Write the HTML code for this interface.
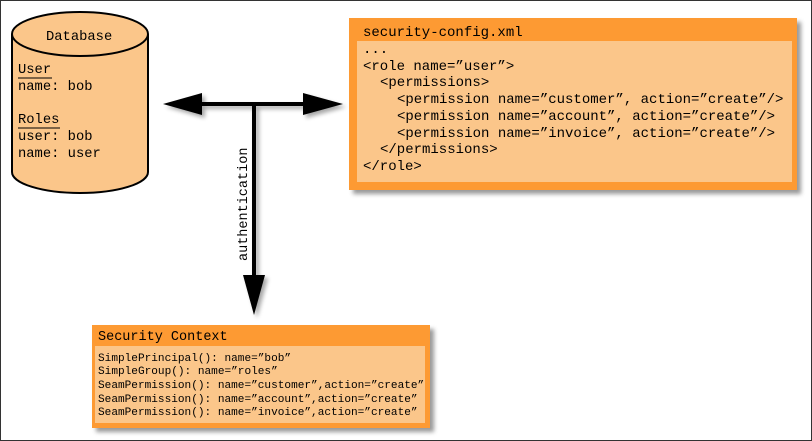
<!DOCTYPE html>
<html><head><meta charset="utf-8"><style>
html,body{margin:0;padding:0;background:#fff}
svg{display:block}
text{font-family:"Liberation Mono",monospace;fill:#000}
</style></head><body>
<svg width="812" height="441" viewBox="0 0 812 441" xmlns="http://www.w3.org/2000/svg">
<defs><filter id="sh" x="-5%" y="-5%" width="115%" height="120%"><feGaussianBlur stdDeviation="2"/></filter></defs>
<rect x="0.5" y="0.5" width="811" height="440" fill="#fff" stroke="#333" stroke-width="1"/>
<path d="M12 34 L12 172 A68 21 0 0 0 148 172 L148 34" fill="#fbc68a" stroke="#000" stroke-width="2"/>
<ellipse cx="80" cy="34" rx="68" ry="22" fill="#fbc68a" stroke="#000" stroke-width="2"/>
<g font-size="13.8">
<text x="46" y="40">Database</text>
<text x="18" y="73">User</text>
<line x1="18" y1="78" x2="52" y2="78" stroke="#000" stroke-width="1"/>
<text x="18" y="90">name: bob</text>
<text x="18" y="123">Roles</text>
<line x1="18" y1="128" x2="60" y2="128" stroke="#000" stroke-width="1"/>
<text x="18" y="140">user: bob</text>
<text x="18" y="157">name: user</text>
</g>
<g opacity="0.35" filter="url(#sh)" transform="translate(3,3)">
<line x1="190" y1="104" x2="320" y2="104" stroke="#000" stroke-width="4"/>
<line x1="254" y1="104" x2="254" y2="285" stroke="#000" stroke-width="4"/>
<polygon points="163,104 202,93 202,115" fill="#000"/>
<polygon points="343,104 303,93 303,115" fill="#000"/>
<polygon points="254,315 243,275 265,275" fill="#000"/>
</g>
<line x1="190" y1="104" x2="320" y2="104" stroke="#000" stroke-width="4"/>
<line x1="254" y1="104" x2="254" y2="285" stroke="#000" stroke-width="4"/>
<polygon points="163,104 202,93 202,115" fill="#000"/>
<polygon points="343,104 303,93 303,115" fill="#000"/>
<polygon points="254,315 243,275 265,275" fill="#000"/>
<text x="0" y="0" font-size="13.5" transform="translate(247,261) rotate(-90)">authentication</text>
<rect x="353" y="22" width="448" height="172" fill="#555" opacity="0.6" filter="url(#sh)"/>
<rect x="349" y="18" width="448" height="172" fill="#fd9a33"/>
<rect x="357" y="41" width="435" height="141" fill="#fbc68a"/>
<g font-size="14">
<text x="363" y="36">security-config.xml</text>
<text x="363" y="53">...</text>
<text x="363" y="70">&lt;role name=”user”&gt;</text>
<text x="380" y="86">&lt;permissions&gt;</text>
<text x="397" y="103">&lt;permission name=”customer”, action=”create”/&gt;</text>
<text x="397" y="120">&lt;permission name=”account”, action=”create”/&gt;</text>
<text x="397" y="137">&lt;permission name=”invoice”, action=”create”/&gt;</text>
<text x="380" y="153">&lt;/permissions&gt;</text>
<text x="363" y="170">&lt;/role&gt;</text>
</g>
<rect x="96" y="329" width="338" height="103" fill="#555" opacity="0.6" filter="url(#sh)"/>
<rect x="92" y="325" width="338" height="103" fill="#fd9a33"/>
<rect x="95" y="346" width="330" height="77" fill="#fbc68a"/>
<text x="98" y="340" font-size="13.5">Security Context</text>
<g font-size="11.1">
<text x="98" y="361">SimplePrincipal(): name=”bob”</text>
<text x="98" y="374">SimpleGroup(): name=”roles”</text>
<text x="98" y="388">SeamPermission(): name=”customer”,action=”create”</text>
<text x="98" y="402">SeamPermission(): name=”account”,action=”create”</text>
<text x="98" y="415">SeamPermission(): name=”invoice”,action=”create”</text>
</g>
</svg>
</body></html>
